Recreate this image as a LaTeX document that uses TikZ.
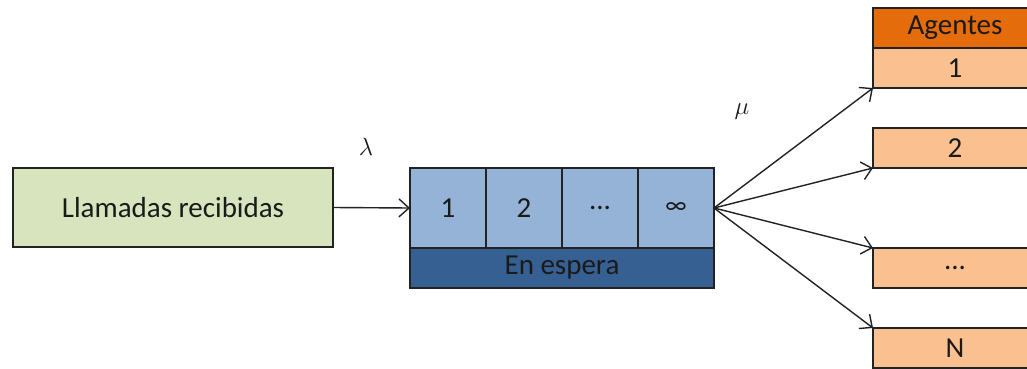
\documentclass[tikz,border=0pt]{standalone}
\usepackage{fontspec}
\setmainfont{Carlito}
\usetikzlibrary{arrows.meta}
\definecolor{greenfill}{HTML}{D7E4BD}
\definecolor{cellfill}{HTML}{95B3D7}
\definecolor{waitfill}{HTML}{376092}
\definecolor{headfill}{HTML}{E46C0A}
\definecolor{agentfill}{HTML}{FAC090}
\definecolor{edge}{HTML}{222222}
\definecolor{txt}{HTML}{1A1A1A}
\begin{document}
\begin{tikzpicture}[x=1pt,y=-1pt,
  every node/.style={inner sep=0pt,outer sep=0pt,text=txt,font=\fontsize{29}{34}\selectfont},
  boxbase/.style={draw=edge,line width=1.6pt,anchor=center},
  srcbox/.style={boxbase,fill=greenfill,minimum width=320pt,minimum height=79pt},
  cellbox/.style={boxbase,fill=cellfill,minimum width=76pt,minimum height=80pt},
  waitbox/.style={boxbase,fill=waitfill,minimum width=304pt,minimum height=40pt},
  headbox/.style={boxbase,fill=headfill,minimum width=164pt,minimum height=40pt},
  agentbox/.style={boxbase,fill=agentfill,minimum width=164pt,minimum height=40pt},
  conn/.style={draw=edge,line width=1.4pt,-{Straight Barb[length=10pt,width=18pt,line width=1.4pt]}},
  greek/.style={font=\fontsize{36}{40}\selectfont}
]
\useasboundingbox (0,0) rectangle (1027,369);
\clip (0,0) rectangle (1027,369);
\node[srcbox] (src) at (173,207.5) {Llamadas recibidas};
\node[cellbox] (c1) at (448,208) {1};
\node[cellbox] (c2) at (524,208) {2};
\node[cellbox] (c3) at (600,208) {...};
\node[cellbox] (c4) at (676,208) {\fontsize{25}{30}\selectfont ∞};
\node[waitbox] (wait) at (562,268) {En espera};
\node[headbox] (head) at (955,28) {Agentes};
\node[agentbox] (a1) at (955,68) {1};
\node[agentbox] (a2) at (955,148) {2};
\node[agentbox] (a3) at (955,268) {...};
\node[agentbox] (aN) at (955,348) {N};
\node[greek] (lam) at (366,147) {$\lambda$};
\node[greek] (mu) at (742,112) {$\mu$};
\draw[conn] (src.east) -- (c1.west);
\draw[conn] (c4.east) -- (a1.south west);
\draw[conn] (c4.east) -- (a2.south west);
\draw[conn] (c4.east) -- (a3.north west);
\draw[conn] (c4.east) -- (aN.north west);
\end{tikzpicture}
\end{document}
